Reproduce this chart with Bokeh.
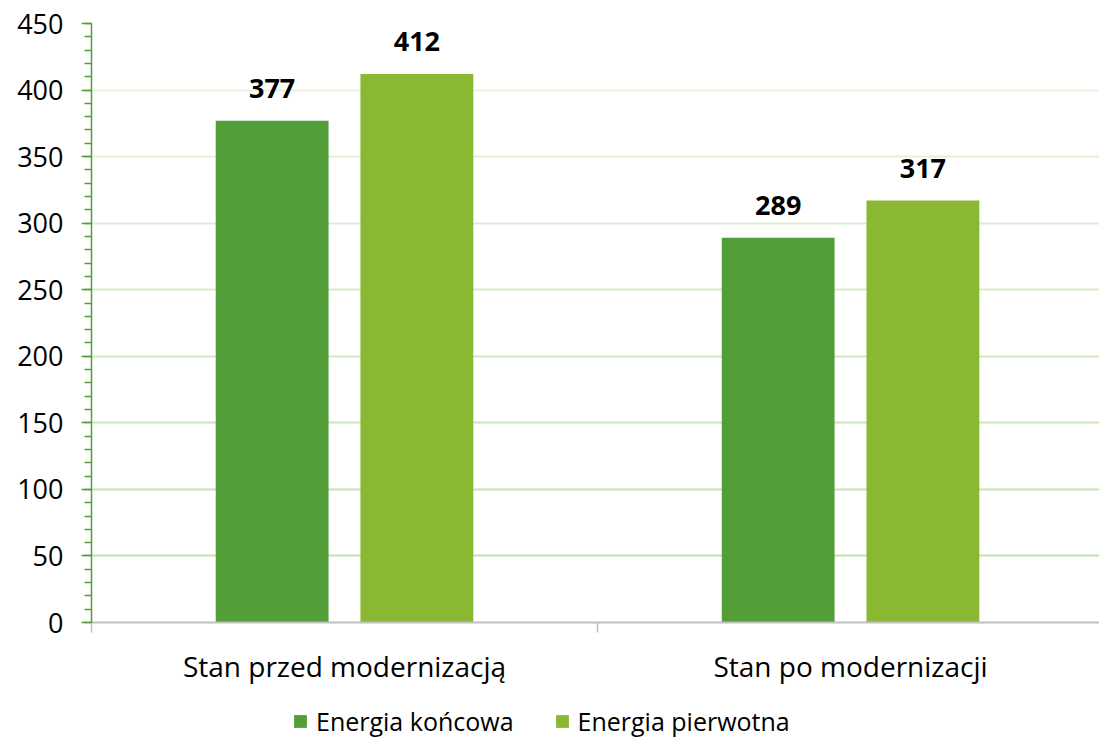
import numpy as np
from bokeh.plotting import figure
from bokeh.layouts import column
from bokeh.models import (ColumnDataSource, Range1d, FixedTicker, SingleIntervalTicker,
                          LabelSet, Legend, LegendItem, Grid)
from bokeh.core.properties import value
from bokeh.embed import file_html
from bokeh.resources import INLINE

categories = ["Stan przed modernizacją", "Stan po modernizacji"]
series_names = ["Energia końcowa", "Energia pierwotna"]
energia_koncowa = [377, 289]
energia_pierwotna = [412, 317]
y_ticks = [0, 50, 100, 150, 200, 250, 300, 350, 400, 450]

colors = ["#549E39", "#8AB833"]
grid_colors = ["#bfe2ad", "#bfe2ad", "#c4e4b3", "#c9e6b9", "#cfe9c0",
               "#d5ecc8", "#dbefd0", "#e1f2d7", "#e6f4de", "#ebf6e5"]
FONT = "Open Sans"

centers = np.arange(len(categories)) + 0.5
offset = 0.143
bar_w = 0.223

p = figure(width=1099, height=690, output_backend="svg", toolbar_location=None,
           x_range=Range1d(0, 1.992), y_range=Range1d(0, 450),
           min_border_left=91, min_border_right=0, min_border_top=23,
           min_border_bottom=68)
p.outline_line_color = None
p.xgrid.visible = False
p.ygrid.visible = False

# gridlines (gradient colors)
for t, c in zip(y_ticks[1:], grid_colors[1:]):
    g = Grid(dimension=1, ticker=FixedTicker(ticks=[t]), grid_line_color=c,
             grid_line_width=1.8)
    p.add_layout(g)

for vals, dx, col in [(energia_koncowa, -offset, colors[0]),
                      (energia_pierwotna, offset, colors[1])]:
    src = ColumnDataSource(dict(x=centers + dx, top=vals,
                                lbl=[str(v) for v in vals]))
    p.vbar(x="x", top="top", width=bar_w, bottom=0, source=src,
           fill_color=col, line_color=None)
    labels = LabelSet(x="x", y="top", text="lbl", source=src, y_offset=23,
                      text_align="center", text_baseline="alphabetic",
                      text_font=value(FONT), text_font_size=value("27px"),
                      text_font_style="bold", text_color="#000000")
    p.add_layout(labels)

# x axis
xa = p.xaxis[0]
xa.ticker = FixedTicker(ticks=list(centers), minor_ticks=[0, 1, 2])
xa.major_label_overrides = {float(c): n for c, n in zip(centers, categories)}
xa.major_tick_in = 0
xa.major_tick_out = 0
xa.minor_tick_in = 0
xa.minor_tick_out = 10
xa.minor_tick_line_color = "#bfbfbf"
xa.minor_tick_line_width = 1.5
xa.axis_line_color = "#bfbfbf"
xa.axis_line_width = 2
xa.major_label_standoff = 14
xa.major_label_text_font = FONT
xa.major_label_text_font_size = "28px"
xa.major_label_text_color = "#000000"

# y axis
ya = p.yaxis[0]
ya.ticker = SingleIntervalTicker(interval=50, num_minor_ticks=5)
ya.axis_line_color = "#549E39"
ya.axis_line_width = 1.5
ya.major_tick_line_color = "#549E39"
ya.major_tick_line_width = 1.5
ya.minor_tick_line_color = "#549E39"
ya.minor_tick_line_width = 1.5
ya.major_tick_in = 0
ya.major_tick_out = 10
ya.minor_tick_in = 0
ya.minor_tick_out = 7
ya.major_label_standoff = 18
ya.major_label_text_font = FONT
ya.major_label_text_font_size = "27px"
ya.major_label_text_color = "#000000"

# legend strip below the chart (proxy bars sit outside the visible range)
p2 = figure(width=1099, height=52, output_backend="svg", toolbar_location=None,
            x_range=Range1d(0, 1), y_range=Range1d(0, 1),
            x_axis_type=None, y_axis_type=None,
            min_border_left=0, min_border_right=0, min_border_top=0,
            min_border_bottom=0)
p2.outline_line_color = None
p2.xgrid.visible = False
p2.ygrid.visible = False
proxies = [p2.vbar(x=[10], top=[1], bottom=0, width=0.1, fill_color=c, line_color=None)
           for c in colors]
legend = Legend(items=[LegendItem(label=n, renderers=[r], index=0)
                       for n, r in zip(series_names, proxies)],
                orientation="horizontal", location=(201, 4),
                label_text_font=FONT, label_text_font_size="25px",
                label_text_color="#000000", glyph_width=16, glyph_height=16,
                spacing=40, label_standoff=8,
                border_line_color=None, background_fill_alpha=0,
                padding=0, margin=0)
p2.add_layout(legend)

layout = column(p, p2, spacing=0)
open("out.html", "w").write(file_html(layout, INLINE))
